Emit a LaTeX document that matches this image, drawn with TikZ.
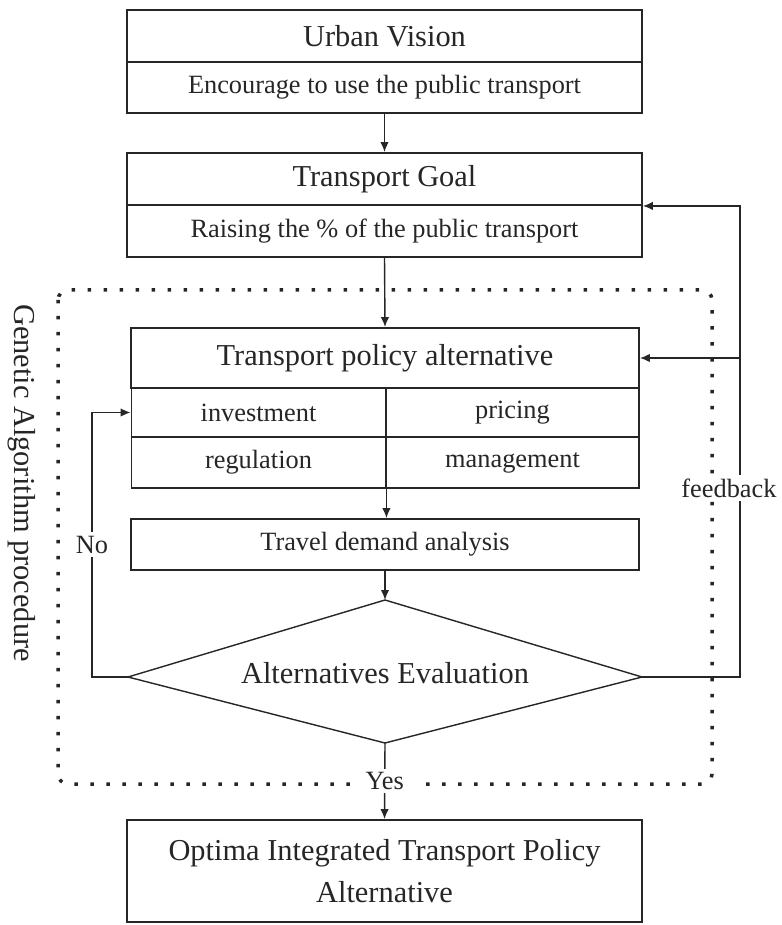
\documentclass[tikz,border=0pt]{standalone}
\usepackage{fontspec}
\setmainfont{Liberation Serif}
\usetikzlibrary{calc,arrows.meta}
\newcommand{\bigtxt}{\fontsize{17.3}{20}\selectfont}
\newcommand{\smalltxt}{\fontsize{15}{18}\selectfont}
\tikzset{
  box/.style={draw=black!85,line width=1.1pt,inner sep=0pt,minimum width=10.3cm,text=black!85},
  cell/.style={box,minimum width=5.08cm,font=\smalltxt},
  arr/.style={draw=black!85,line width=0.8pt,-{Latex[length=0.2cm,width=0.17cm]}},
  lbl/.style={fill=white,inner sep=2pt,font=\smalltxt,text=black!85},
  dotframe/.style={draw=black!85,line width=0.07cm,dash pattern=on 0.07cm off 0.25cm,rounded corners=0.2cm}
}

\begin{document}
\begin{tikzpicture}[x=0.02cm,y=-0.02cm]
        \useasboundingbox (0,0) rectangle (781,925);
        \coordinate (O) at (0,0);

        \draw[dotframe] (58,290) rectangle (712,784);

        \node[box,minimum height=1.04cm,font=\bigtxt] (vision) at (384.5,36) {Urban Vision};
        \node[box,minimum height=1.02cm,font=\smalltxt] (visiontxt) at (384.5,87.5) {Encourage to use the public transport};

        \node[box,minimum height=1.04cm,font=\bigtxt] (goal) at (384.5,179) {Transport Goal};
        \node[box,minimum height=1.04cm,font=\smalltxt] (goaltxt) at (384.5,231) {Raising the \% of the public transport};

        \node[box,minimum width=10.16cm,minimum height=1.2cm,font=\bigtxt] (policy) at (385,358) {Transport policy alternative};
        \node[cell,minimum height=0.98cm] (invest) at (258.5,412.5) {investment};
        \node[cell,minimum width=5.06cm,minimum height=0.98cm] (pricing) at (512.5,412.5) {pricing};
        \node[cell,minimum height=1.02cm] (regul) at (258.5,462.5) {regulation};
        \node[cell,minimum width=5.06cm,minimum height=1.02cm] (manage) at (512.5,462.5) {management};

        \node[box,minimum width=10.16cm,minimum height=1.02cm,font=\smalltxt] (travel) at (385,544.5) {Travel demand analysis};

        \coordinate (evalN) at (385,600);
        \coordinate (evalE) at (642,677);
        \coordinate (evalS) at (385,743);
        \coordinate (evalW) at (128,677);
        \draw[draw=black!85,line width=0.8pt] (evalN) -- (evalE) -- (evalS) -- (evalW) -- cycle;
        \node[font=\bigtxt,text=black!85] (eval) at (385,673) {Alternatives Evaluation};

        \node[box,minimum height=2.04cm,font=\fontsize{17.3}{24}\selectfont,align=center] (final) at (384.5,871)
              {Optima Integrated Transport Policy\\Alternative};

        \draw[arr] (visiontxt.south) -- (goal.north);
        \draw[arr] (goaltxt.south) -- (policy.north);
        \draw[arr] (regul.south east) -- (regul.south east |- travel.north);
        \draw[arr] (travel.south) -- (evalN);
        \draw[arr] (evalS) -- node[lbl,inner xsep=8pt] (yes) {Yes} (final.north);

        \coordinate (fb) at (740,0);
        \draw[arr] (evalE) -| (fb |- goal.south east) -- (goal.south east);
        \draw[arr] (fb |- policy.east) -- (policy.east);
        \node[lbl] (fblabel) at (729,488) {feedback};

        \coordinate (nb) at (92,0);
        \draw[arr] (evalW) -| (nb |- invest.west) -- (invest.west);
        \node[lbl] (nolabel) at (nb |- travel.west) {No};

        \node[font=\bigtxt,rotate=-90,text=black!85] (ga) at (22,483) {Genetic Algorithm procedure};

    \end{tikzpicture}
\end{document}
